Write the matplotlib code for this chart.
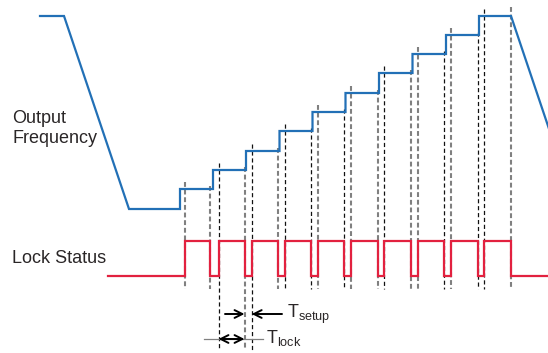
import matplotlib
matplotlib.use("Agg")
import matplotlib.pyplot as plt

plt.rcParams['font.family'] = ['Liberation Sans', 'DejaVu Sans']
plt.rcParams['mathtext.fontset'] = 'custom'
plt.rcParams['mathtext.rm'] = 'Liberation Sans'
plt.rcParams['mathtext.it'] = 'Liberation Sans:italic'
plt.rcParams['lines.scale_dashes'] = False

# schematic coordinates (pixel-like units, y grows downward)
step_x = [180, 213, 246, 279.5, 312.5, 345.5, 379, 412.5, 446, 479]
freq_levels = [209, 189, 170, 151, 131, 112, 93, 73, 54, 35, 16]
freq_start = [(40, 16), (64, 16), (129, 209)]
freq_end = [(511, 16), (576, 209)]

lock_start = 108
lock_drop = [210, 244.5, 277.7, 310.7, 344.3, 377.7, 411, 444.3, 477.7]
lock_rise = [185, 218.5, 251.7, 285, 317.5, 351, 384.3, 417.7, 451, 484]
lock_end = 511
lock_hi, lock_lo = 241, 276

drop_style = ['g', 'g', 'g', 'k', 'k', 'g', 'g', 'k', 'k']
rise_style = ['g', 'k', 'k', 'k', 'g', 'g', 'k', 'g', 'g', 'k']
long_lines = [244.5, 218.5, 251.7]

BLUE = '#2270b6'
RED = '#e2213f'
TXT = '#2a2627'

fig = plt.figure(figsize=(5.48, 3.53), dpi=100)
ax = fig.add_axes([0, 0, 1, 1])
ax.set_xlim(0, 548)
ax.set_ylim(353, 0)
ax.axis('off')


def marker_line(x, top, style):
    bottom = 350 if x in long_lines else 289
    if style == 'g':
        ax.plot([x, x], [top, bottom], color='#808080', lw=1.5,
                dashes=(3.5, 2), zorder=1)
    else:
        ax.plot([x, x], [top, bottom], color='#111111', lw=0.9,
                dashes=(3, 2), zorder=1)


# frequency trace
fx = [p[0] for p in freq_start]
fy = [p[1] for p in freq_start]
for sx, lo, hi in zip(step_x, freq_levels[:-1], freq_levels[1:]):
    fx += [sx, sx]
    fy += [lo, hi]
fx += [p[0] for p in freq_end]
fy += [p[1] for p in freq_end]
ax.plot(fx, fy, color=BLUE, lw=1.6, solid_joinstyle='miter', zorder=3)

# lock status trace
lx = [lock_start, lock_rise[0], lock_rise[0]]
ly = [lock_lo, lock_lo, lock_hi]
for d, r in zip(lock_drop, lock_rise[1:]):
    lx += [d, d, r, r]
    ly += [lock_hi, lock_lo, lock_lo, lock_hi]
lx += [lock_end, lock_end, 560]
ly += [lock_hi, lock_lo, lock_lo]
ax.plot(lx, ly, color=RED, lw=1.6, solid_joinstyle='miter', zorder=3)

# dashed marker lines
for i, (x, st) in enumerate(zip(lock_rise, rise_style)):
    marker_line(x, freq_levels[i + 1] - 7, st)
for j, (x, st) in enumerate(zip(lock_drop, drop_style)):
    marker_line(x, freq_levels[j + 1] - 3, st)
marker_line(lock_end, 7, 'g')

# labels
ax.text(12, 123, 'Output', fontsize=13, color=TXT, va='baseline')
ax.text(12, 143, 'Frequency', fontsize=13, color=TXT, va='baseline')
ax.text(12, 263, 'Lock Status', fontsize=13, color=TXT, va='baseline')

# timing annotations
arrow = dict(arrowstyle='->', lw=1.4, color='black', shrinkA=0, shrinkB=0,
             mutation_scale=14)
ax.annotate('', xy=(244.5, 314), xytext=(225, 314), arrowprops=arrow)
ax.annotate('', xy=(251.7, 314), xytext=(282, 314), arrowprops=arrow)
ax.text(287, 318, r'T$_{\mathrm{setup}}$', fontsize=13, color=TXT,
        va='baseline')

ax.plot([204, 263], [339, 339], color='#808080', lw=0.9, zorder=1)
ax.annotate('', xy=(244.5, 339), xytext=(218.5, 339),
            arrowprops=dict(arrow, arrowstyle='<->'))
ax.text(266.5, 343, r'T$_{\mathrm{lock}}$', fontsize=13, color=TXT,
        va='baseline')

fig.savefig('out.png', dpi=100)
